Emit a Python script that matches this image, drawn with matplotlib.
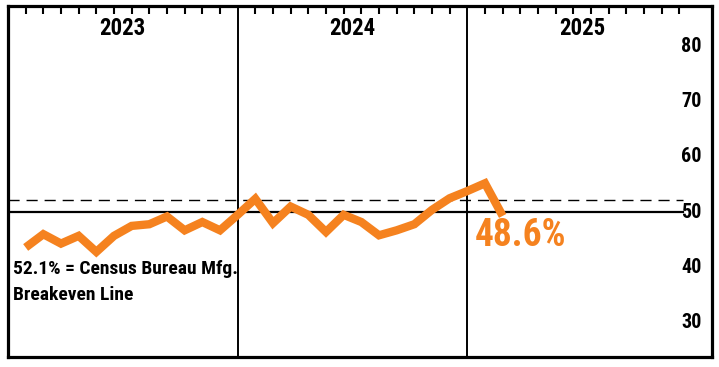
import matplotlib
matplotlib.use("Agg")
import matplotlib.pyplot as plt

plt.rcParams['font.family'] = ['Roboto Condensed', 'Archivo Narrow', 'DejaVu Sans']

# monthly index readings, one slot per month on the chart
index_values = [43.6, 46.0, 44.3, 45.7, 42.8, 45.7, 47.5, 47.8, 49.2, 46.7, 48.2, 46.7,
                49.5, 52.4, 48.0, 51.0, 49.5, 46.4, 49.5, 48.2, 45.8, 46.7, 47.8, 50.4,
                52.5, 53.8, 55.2, 49.3]
slots = list(range(1, len(index_values) + 1))

years = ['2023', '2024', '2025']
year_dividers = [13, 26]
month_ticks = [s for s in range(1, 39) if s not in year_dividers]

y_ticks = [30, 40, 50, 60, 70, 80]
breakeven = 52.1
last_label = '48.6%'
note_lines = ['52.1% = Census Bureau Mfg.', 'Breakeven Line']

orange = '#F5821F'

fig = plt.figure(figsize=(7.19, 3.67), dpi=100)
ax = fig.add_axes([8 / 719, 10 / 367, 704 / 719, 351 / 367])
ax.set_xlim(0, 39.85)
ax.set_ylim(23.8, 87.25)

for sp in ax.spines.values():
    sp.set_linewidth(2.3)
    sp.set_color('black')

ax.set_yticks([])
ax.xaxis.tick_top()
ax.set_xticks(month_ticks)
ax.set_xticklabels([])
ax.tick_params(axis='x', direction='in', length=6, width=1.5, color='black')

for d in year_dividers:
    ax.axvline(d, color='black', lw=1.4, zorder=2)

# reference lines
ax.plot([0, 38.2], [50, 50], color='black', lw=1.6, zorder=2)
ax.plot([0, 38.2], [breakeven, breakeven], color='black', lw=1.0,
        dashes=(8, 5), zorder=2)

ax.plot(slots, index_values, color=orange, lw=6,
        solid_joinstyle='miter', solid_capstyle='butt', zorder=3)

bounds = [0] + year_dividers
for i, yr in enumerate(years):
    mid = bounds[i] + 6.5
    ax.text(mid, 83.2, yr, ha='center', va='center', fontsize=16.5,
            fontweight='bold')

for t in y_ticks:
    ax.text(39.25, t, str(t), ha='right', va='center', fontsize=14.5,
            fontweight='bold')

ax.text(0.28, 41.4, note_lines[0], ha='left', va='top', fontsize=14,
        fontweight='bold')
ax.text(0.28, 36.7, note_lines[1], ha='left', va='top', fontsize=14,
        fontweight='bold')

ax.text(26.4, 45.8, last_label, ha='left', va='center', fontsize=27,
        fontweight='bold', color=orange)

fig.savefig('out.png', dpi=100)
